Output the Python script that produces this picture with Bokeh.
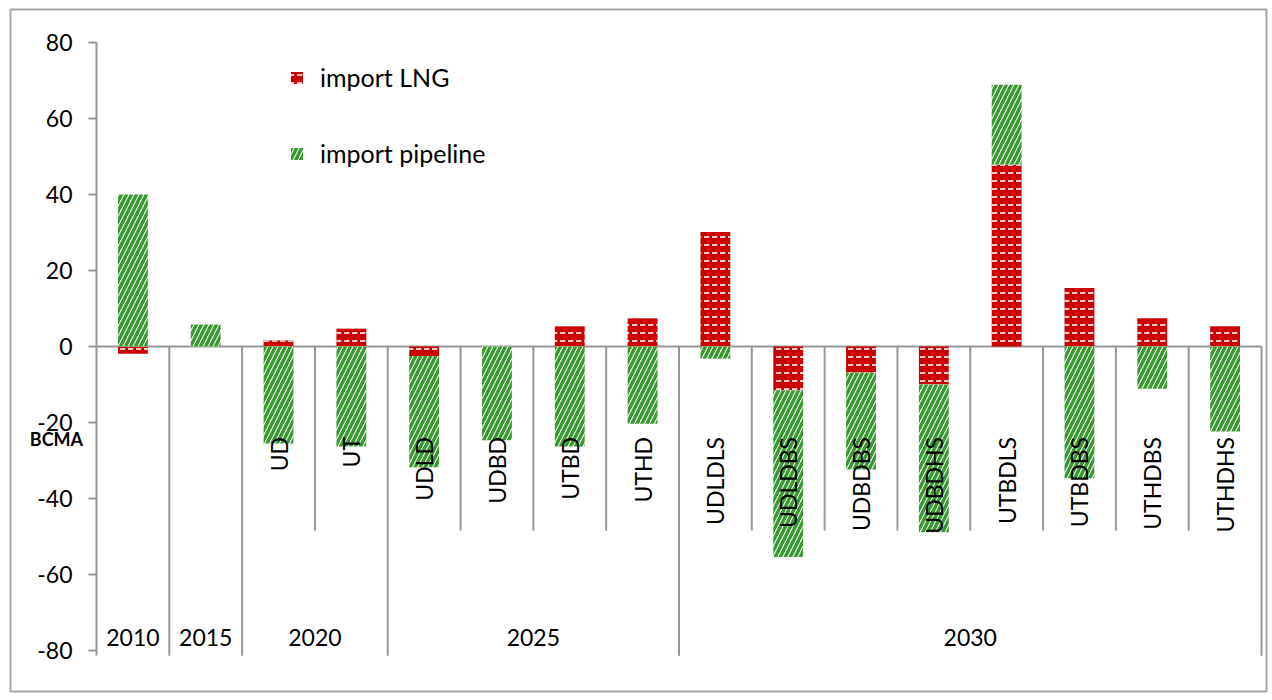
import math
from bokeh.plotting import figure
from bokeh.models import Range1d, FixedTicker, ColumnDataSource
from bokeh.core.properties import value
from bokeh.embed import file_html
from bokeh.resources import INLINE

# ---- data ----
scenarios = ["", "", "UD", "UT", "UDLD", "UDBD", "UTBD", "UTHD",
             "UDLDLS", "UDLDBS", "UDBDBS", "UDBDHS", "UTBDLS", "UTBDBS", "UTHDBS", "UTHDHS"]
periods = ["2010", "2015", "2020", "2020", "2025", "2025", "2025", "2025",
           "2030", "2030", "2030", "2030", "2030", "2030", "2030", "2030"]
import_lng = [-1.9, 0.0, 1.6, 4.7, -2.5, 0.0, 5.3, 7.4,
              30.1, -11.6, -6.9, -10.0, 47.9, 15.4, 7.4, 5.3]
import_pipeline = [40.0, 5.8, -25.5, -26.3, -29.3, -24.7, -26.3, -20.3,
                   -3.2, -43.8, -25.5, -38.9, 21.0, -34.7, -11.1, -22.4]
y_ticks = [-80, -60, -40, -20, 0, 20, 40, 60, 80]

FONT = "Lato"
GRAY = "#979797"
BORDER = "#a6a6a6"
RED = "#cc0000"
GREEN = "#389a30"

n = len(scenarios)
xs = [i + 0.5 for i in range(n)]
lng_top = import_lng
lng_bottom = [0.0] * n
pipe_bottom = [l if l * p > 0 else 0.0 for l, p in zip(import_lng, import_pipeline)]
pipe_top = [b + p for b, p in zip(pipe_bottom, import_pipeline)]

# frame covers whole chart area (outline = chart border); y axis drawn at x=0
p = figure(width=1268, height=693,
           x_range=Range1d(-1.1811, 16.0687), y_range=Range1d(-90.79, 88.68),
           x_axis_location=None,
           output_backend="svg", toolbar_location=None,
           min_border_left=10, min_border_right=2, min_border_top=9, min_border_bottom=2)
p.grid.visible = False
p.outline_line_color = BORDER
p.outline_line_width = 2

# y axis
ax = p.yaxis[0]
ax.fixed_location = 0
ax.bounds = (-81.4, 80)
ax.ticker = FixedTicker(ticks=y_ticks)
ax.major_label_overrides = {t: str(t) for t in y_ticks}
ax.major_tick_in = 0
ax.major_tick_out = 8
ax.minor_tick_line_color = None
ax.axis_line_color = GRAY
ax.axis_line_width = 2
ax.major_tick_line_color = GRAY
ax.major_tick_line_width = 2
ax.major_label_text_font = FONT
ax.major_label_text_font_size = "23px"
ax.major_label_text_color = "black"
ax.major_label_standoff = 16

# zero line (category axis)
p.segment(x0=[0], x1=[n], y0=[0], y1=[0], line_color=GRAY, line_width=2)

# bars
src = ColumnDataSource(dict(x=xs, lt=lng_top, lb=lng_bottom, pt=pipe_top, pb=pipe_bottom))
p.vbar(x="x", top="lt", bottom="lb", width=0.41, source=src,
       fill_color=RED, line_color=None,
       hatch_pattern="horizontal_dash", hatch_color="white", hatch_scale=8, hatch_weight=1.6,
       legend_label="import LNG")
p.vbar(x="x", top="pt", bottom="pb", width=0.41, source=src,
       fill_color="white", line_color=None,
       hatch_pattern="right_diagonal_line", hatch_color=GREEN, hatch_scale=10, hatch_weight=3.5,
       legend_label="import pipeline")

# dividers of the two-level category axis
sub_x, grp_x = [], []
for i in range(1, n + 1):
    if i == n or periods[i] != periods[i - 1]:
        grp_x.append(i)
    else:
        sub_x.append(i)
p.segment(x0=sub_x, x1=sub_x, y0=[0] * len(sub_x), y1=[-48.4] * len(sub_x),
          line_color=GRAY, line_width=2)
p.segment(x0=grp_x, x1=grp_x, y0=[0] * len(grp_x), y1=[-81.4] * len(grp_x),
          line_color=GRAY, line_width=2)

# scenario labels (rotated)
p.text(x=xs, y=[-23.8] * n, text=scenarios, angle=math.pi / 2,
       text_align="right", text_baseline="middle",
       text_font=value(FONT), text_font_size="23px", text_color="black")

# period labels
gx, gl = [], []
start = 0
for i in range(1, n + 1):
    if i == n or periods[i] != periods[start]:
        gx.append((start + i) / 2)
        gl.append(periods[start])
        start = i
p.text(x=gx, y=[-76.7] * len(gx), text=gl, text_align="center", text_baseline="middle",
       text_font=value(FONT), text_font_size="23px", text_color="black")

# axis title
p.text(x=[-0.55], y=[-24.3], text=["BCMA"], text_align="center", text_baseline="middle",
       text_font=value(FONT), text_font_size="18px", text_font_style="bold", text_color="black")

# legend
lg = p.legend[0]
lg.location = (279, 523)
lg.border_line_color = None
lg.background_fill_alpha = 0
lg.padding = 0
lg.margin = 0
lg.glyph_width = 15
lg.glyph_height = 15
lg.label_standoff = 16
lg.spacing = 46
lg.label_text_font = FONT
lg.label_text_font_size = "25px"
lg.label_text_color = "black"

open("out.html", "w").write(file_html(p, INLINE))
